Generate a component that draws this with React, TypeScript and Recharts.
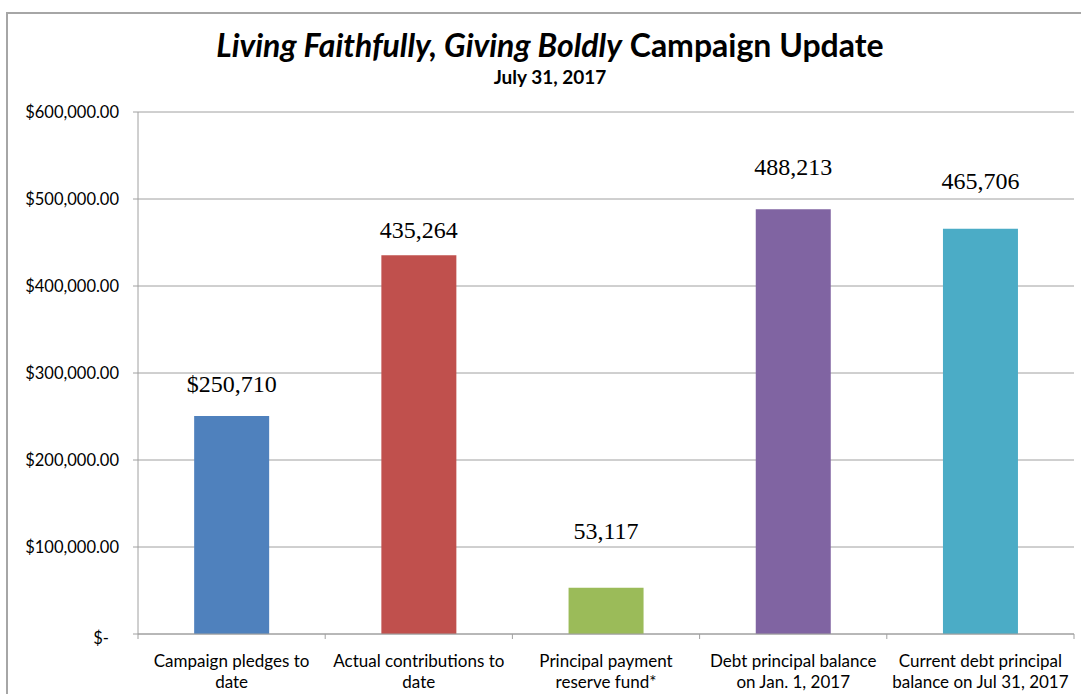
import { Bar, BarChart, CartesianGrid, Cell, LabelList, XAxis, YAxis } from 'recharts';

const categories = [
  'Campaign pledges to\ndate',
  'Actual contributions to\ndate',
  'Principal payment\nreserve fund*',
  'Debt principal balance\non Jan. 1, 2017',
  'Current debt principal\nbalance on Jul 31, 2017',
];
const amounts = [250710, 435264, 53117, 488213, 465706];
const barColors = ['#4F81BD', '#C0504D', '#9BBB59', '#8064A2', '#4BACC6'];
const yTicks = [0, 100000, 200000, 300000, 400000, 500000, 600000];

const chartData = categories.map((name, i) => ({
  name,
  amount: amounts[i],
  label: (i === 0 ? '$' : '') + amounts[i].toLocaleString('en-US'),
}));

// the data labels were dragged by hand in the original, so each sits at its own height
const labelLift = [24, 17, 49, 34, 40];

const FONT = 'Lato, "Open Sans", sans-serif';
const GRID = '#a0a0a0';

function formatMoney(value: number) {
  if (value === 0) return '$-';
  return '$' + value.toLocaleString('en-US', { minimumFractionDigits: 2, maximumFractionDigits: 2 });
}

function YTick(props: any) {
  const { x, y, payload } = props;
  const isZero = payload.value === 0;
  return (
    <text
      x={isZero ? x - 10 : x}
      y={isZero ? y + 4 : y}
      dy="0.35em"
      textAnchor="end"
      fill="#000"
      fontSize={16.5}
      fontFamily={FONT}
    >
      {formatMoney(payload.value)}
    </text>
  );
}

function XTick(props: any) {
  const { x, y, payload, index, visibleTicksCount } = props;
  const half = payload.offset ?? 0;
  const lines = String(payload.value).split('\n');
  const isLast = index === (visibleTicksCount ?? categories.length) - 1;
  const axisY = y - 8;
  return (
    <g>
      <line x1={x - half} x2={x - half} y1={axisY} y2={axisY + 5} stroke={GRID} />
      {isLast && <line x1={x + half} x2={x + half} y1={axisY} y2={axisY + 5} stroke={GRID} />}
      <text x={x} y={y} textAnchor="middle" fill="#000" fontSize={17} fontFamily={FONT}>
        {lines.map((line, i) => (
          <tspan key={i} x={x} dy={i === 0 ? 25 : 21}>
            {line}
          </tspan>
        ))}
      </text>
    </g>
  );
}

function ValueLabel(props: any) {
  const { x, y, width, value, index } = props;
  return (
    <text
      x={x + width / 2}
      y={y - labelLift[index]}
      textAnchor="middle"
      fill="#000"
      fontSize={24}
      fontFamily='"Liberation Serif", "Times New Roman", serif'
    >
      {value}
    </text>
  );
}

export default function App() {
  return (
    <div style={{ position: 'absolute', left: 0, top: 0, width: 1081, height: 694, overflow: 'hidden', background: '#fff' }}>
      <div
        style={{
          position: 'absolute',
          left: 6,
          top: 12,
          width: 1100,
          height: 720,
          border: '2px solid #a6a6a6',
          boxSizing: 'border-box',
        }}
      />
      <div
        style={{
          position: 'absolute',
          left: 0,
          top: 25,
          width: 1100,
          textAlign: 'center',
          fontFamily: FONT,
          fontWeight: 700,
          fontSize: 32,
          color: '#000',
          lineHeight: '40px',
        }}
      >
        <i>Living Faithfully, Giving Boldly</i> Campaign Update
      </div>
      <div
        style={{
          position: 'absolute',
          left: 0,
          top: 66,
          width: 1100,
          textAlign: 'center',
          fontFamily: FONT,
          fontWeight: 700,
          fontSize: 19,
          color: '#000',
          lineHeight: '22px',
        }}
      >
        July 31, 2017
      </div>
      <div style={{ position: 'absolute', left: 0, top: 0 }}>
        <BarChart
          width={1081}
          height={694}
          data={chartData}
          margin={{ top: 112, right: 7, left: 0, bottom: 0 }}
          barCategoryGap="30%"
        >
          <CartesianGrid vertical={false} stroke={GRID} />
          <YAxis
            width={138}
            domain={[0, 600000]}
            ticks={yTicks}
            interval={0}
            axisLine={{ stroke: GRID }}
            tickLine={{ stroke: GRID }}
            tickSize={5}
            tickMargin={14}
            tick={<YTick />}
          />
          <XAxis
            dataKey="name"
            height={60}
            interval={0}
            axisLine={{ stroke: GRID }}
            tickLine={false}
            tick={<XTick />}
          />
          <Bar dataKey="amount" isAnimationActive={false}>
            {chartData.map((_, i) => (
              <Cell key={i} fill={barColors[i]} />
            ))}
            <LabelList dataKey="label" content={<ValueLabel />} />
          </Bar>
        </BarChart>
      </div>
    </div>
  );
}
